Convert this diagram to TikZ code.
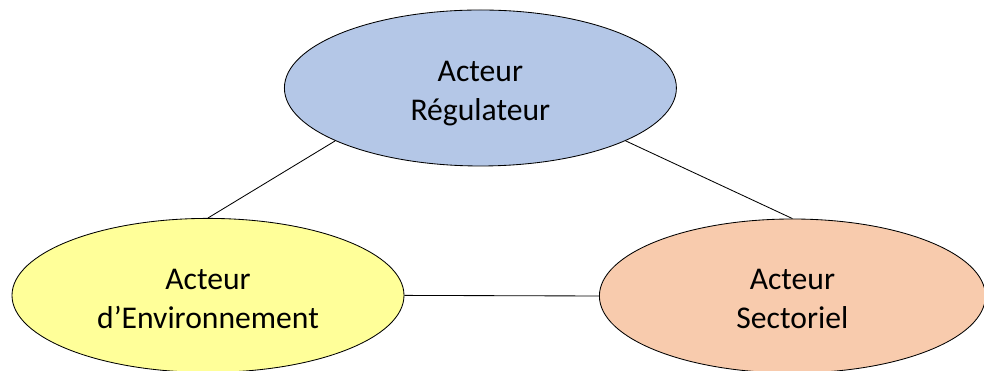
\documentclass[tikz,border=0pt]{standalone}
\usepackage{fontspec}
\setmainfont{Carlito}
\usetikzlibrary{shapes.geometric}
\definecolor{regulblue}{RGB}{180,199,231}
\definecolor{envyellow}{RGB}{255,255,153}
\definecolor{sectpeach}{RGB}{248,203,173}
\begin{document}
\begin{tikzpicture}[
    actor/.style={ellipse, draw, line width=0.6pt, inner sep=0pt, minimum width=9.8cm, minimum height=3.85cm, align=center, text height=51.8pt, text depth=5pt, font=\fontsize{22.5}{27.7}\selectfont},
    link/.style={line width=0.6pt}
]
\useasboundingbox (0,0) rectangle (24.6,9.275);

% Nodes
\node[actor, fill=regulblue, minimum height=3.9cm] (regul) at (12.01,7.075) {Acteur \\ Régulateur};
\node[actor, fill=envyellow] (env) at (5.2,1.89) {Acteur \\ d’Environnement};
\node[actor, fill=sectpeach, minimum width=9.65cm] (sect) at (19.81,1.875) {Acteur \\ Sectoriel};

% Links
\draw[link] (regul.200) -- (env.north);
\draw[link] (regul.340) -- (sect.north);
\draw[link] (env.east) -- (sect.west);

\end{tikzpicture}
\end{document}
